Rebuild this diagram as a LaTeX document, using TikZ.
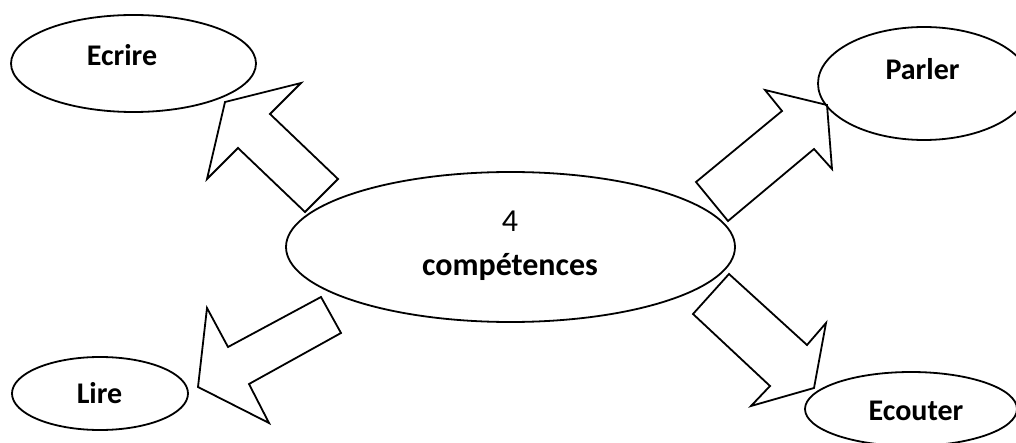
\documentclass[tikz,border=0pt]{standalone}
\usepackage{fontspec}
\setmainfont{Carlito}
\usetikzlibrary{shapes.geometric}
\begin{document}
\begin{tikzpicture}[x=1pt,y=-1pt,
  bubble/.style={draw=black,ellipse,line width=1.8pt,inner sep=0pt},
  word/.style={anchor=base,font=\fontsize{30}{34}\selectfont\bfseries,inner sep=0pt},
  bigword/.style={anchor=base,font=\fontsize{32}{36}\selectfont\bfseries,inner sep=0pt},
  digit/.style={anchor=base,font=\fontsize{32}{36}\selectfont,inner sep=0pt},
  blockarrow/.style={draw=black,line width=1.8pt,line join=miter}]
\useasboundingbox (0,0) rectangle (1016,443);

% central bubble
\node[bubble,minimum width=449pt,minimum height=150pt] (centre) at (510.5,247) {};
\node[digit] (num) at (510,232) {4};
\node[bigword] (comp) at (510,276) {compétences};

% surrounding bubbles
\node[bubble,minimum width=245pt,minimum height=97pt] (ecrire) at (133.5,63.5) {};
\node[word] (tecrire) at (122,66) {Ecrire};
\node[bubble,minimum width=212pt,minimum height=113pt] (parler) at (924,83.5) {};
\node[word] (tparler) at (922.5,80) {Parler};
\node[bubble,minimum width=176pt,minimum height=73pt] (lire) at (100,393.5) {};
\node[word] (tlire) at (99.5,403) {Lire};
\node[bubble,minimum width=212pt,minimum height=74pt] (ecouter) at (911,409) {};
\node[word] (tecouter) at (916,420) {Ecouter};

% block arrows pointing outwards
\draw[blockarrow] (305,212) -- (338,179) -- (270,114) -- (301,83) -- (225,102)
  -- (207,179) -- (238,148) -- cycle;
\draw[blockarrow] (696,182) -- (728,221) -- (814,149) -- (832,169) -- (827,105)
  -- (765,90) -- (782,111) -- cycle;
\draw[blockarrow] (321,297) -- (341,333) -- (249,384) -- (269,423) -- (198,387)
  -- (207,308) -- (228,347) -- cycle;
\draw[blockarrow] (729,274) -- (693,314) -- (770,386) -- (751,406) -- (814,388)
  -- (826,323) -- (807,345) -- cycle;
\end{tikzpicture}
\end{document}
